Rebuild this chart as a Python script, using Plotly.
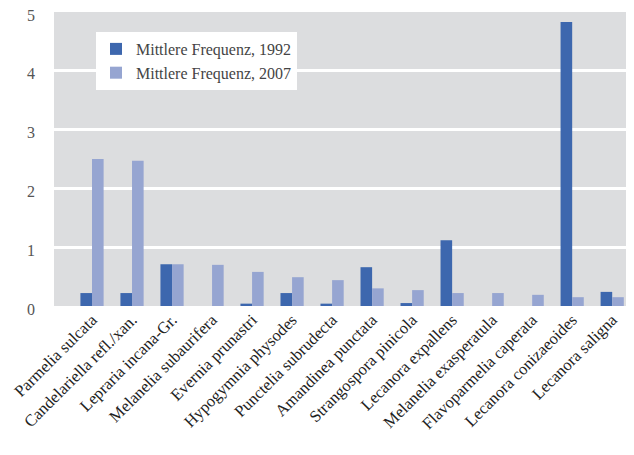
import plotly.graph_objects as go

categories = ["Parmelia sulcata", "Candelariella refl./xan.", "Lepraria incana-Gr.",
              "Melanelia subaurifera", "Evernia prunastri", "Hypogymnia physodes",
              "Punctelia subrudecta", "Amandinea punctata", "Strangospora pinicola",
              "Lecanora expallens", "Melanelia exasperatula", "Flavoparmelia caperata",
              "Lecanora conizaeoides", "Lecanora saligna"]
freq_1992 = [0.22, 0.22, 0.71, 0.0, 0.04, 0.22, 0.04, 0.66, 0.05, 1.12, 0.0, 0.0, 4.83, 0.24]
freq_2007 = [2.50, 2.47, 0.71, 0.70, 0.58, 0.49, 0.44, 0.30, 0.27, 0.22, 0.22, 0.19, 0.15, 0.15]
y_ticks = [0, 1, 2, 3, 4, 5]

font = "Liberation Serif, Times New Roman, serif"

fig = go.Figure()
fig.add_trace(go.Bar(x=categories, y=freq_1992, name="Mittlere Frequenz, 1992",
                     marker=dict(color="#3d67ae", line=dict(width=0))))
fig.add_trace(go.Bar(x=categories, y=freq_2007, name="Mittlere Frequenz, 2007",
                     marker=dict(color="#96a5d1", line=dict(width=0))))

fig.update_layout(
    width=626, height=447,
    margin=dict(l=46, r=1, t=4, b=149),
    paper_bgcolor="white", plot_bgcolor="#dcdddf",
    barmode="group", bargap=0.42, bargroupgap=0,
    font=dict(family=font, size=16, color="#333333"),
    showlegend=True,
    legend=dict(x=0.0725, y=0.932, xanchor="left", yanchor="top",
                bgcolor="white", borderwidth=0,
                font=dict(family=font, size=16, color="#444444"),
                itemwidth=30, tracegroupgap=0),
    xaxis=dict(range=[-0.95, 13.52], tickangle=-45, showgrid=False, zeroline=False,
               showline=False, ticks="", automargin=False,
               tickfont=dict(family=font, size=16.5, color="#222222")),
    yaxis=dict(range=[0, 5], tickvals=y_ticks, showgrid=True, gridcolor="white", gridwidth=2.5,
               zeroline=False, showline=False, ticks="", ticklabelstandoff=18, automargin=False,
               ticklabeloverflow="allow", ticklabelshift=3,
               tickfont=dict(family=font, size=16, color="#555555")),
)

fig.write_html("out.html")
